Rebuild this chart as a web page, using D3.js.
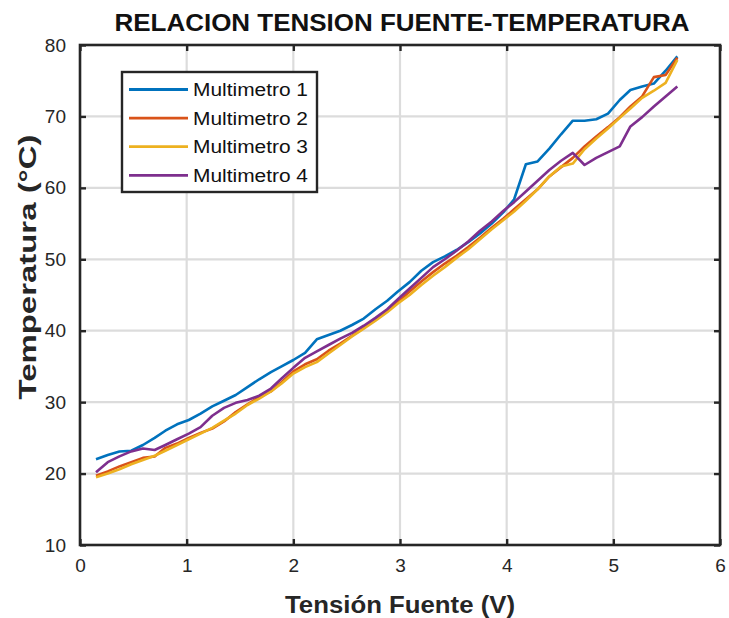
<!DOCTYPE html>
<html>
<head>
<meta charset="utf-8">
<script src="https://cdn.jsdelivr.net/npm/d3@7"></script>
<style>
  html, body { margin: 0; padding: 0; background: #fff; }
  svg { display: block; font-family: "Liberation Sans", Arial, Helvetica, sans-serif; }
</style>
</head>
<body>
<svg id="chart" width="729" height="618"></svg>
<script>
// Supply voltage (V) for each reading
const voltage = [0.15,0.26,0.37,0.48,0.59,0.70,0.80,0.91,1.02,1.13,1.24,1.35,1.46,1.57,1.68,1.79,1.89,2.00,2.11,2.22,2.33,2.44,2.55,2.66,2.77,2.88,2.98,3.09,3.20,3.31,3.42,3.53,3.64,3.75,3.86,3.97,4.07,4.18,4.29,4.40,4.51,4.62,4.73,4.84,4.95,5.06,5.16,5.27,5.38,5.49,5.60];

// Temperature (°C) read by each multimeter
const multimetro1 = [22.0,22.6,23.1,23.2,24.0,25.0,26.0,26.9,27.5,28.4,29.4,30.2,31.0,32.1,33.2,34.2,35.0,35.9,36.9,38.8,39.4,40.0,40.8,41.7,43.0,44.2,45.5,46.8,48.4,49.6,50.4,51.3,52.4,53.6,55.0,56.6,58.4,63.3,63.7,65.5,67.5,69.4,69.4,69.6,70.4,72.3,73.7,74.2,74.6,76.4,78.4];
const multimetro2 = [19.7,20.3,21.0,21.6,22.2,22.4,23.6,24.2,25.0,25.7,26.3,27.3,28.6,29.7,30.7,31.5,32.8,34.3,35.3,36.0,37.2,38.2,39.3,40.4,41.6,42.9,44.0,45.5,46.9,48.2,49.4,50.5,51.7,53.0,54.4,55.7,57.0,58.4,59.8,61.6,62.9,64.2,65.8,67.2,68.5,69.9,71.4,72.8,75.5,75.8,78.2];
const multimetro3 = [19.5,20.0,20.6,21.3,21.9,22.5,23.2,24.0,24.8,25.6,26.4,27.4,28.4,29.6,30.5,31.5,32.6,34.0,34.9,35.6,36.8,38.0,39.2,40.3,41.4,42.6,43.8,45.0,46.4,47.7,48.9,50.2,51.4,52.8,54.2,55.5,56.7,58.2,59.8,61.6,63.0,63.4,65.4,66.9,68.3,69.8,71.1,72.6,73.6,74.7,77.9];
const multimetro4 = [20.2,21.6,22.4,23.1,23.5,23.3,24.0,24.8,25.6,26.5,28.1,29.2,29.9,30.3,30.9,31.9,33.3,34.8,36.2,37.1,38.0,38.9,39.7,40.7,41.8,43.0,44.4,45.9,47.4,48.9,50.0,51.2,52.5,54.0,55.3,56.8,58.0,59.5,61.0,62.5,63.8,64.9,63.2,64.2,65.0,65.8,68.6,69.9,71.4,72.8,74.2];

const seriesNames = ["Multimetro 1", "Multimetro 2", "Multimetro 3", "Multimetro 4"];
const xTicks = [0, 1, 2, 3, 4, 5, 6];
const yTicks = [10, 20, 30, 40, 50, 60, 70, 80];

const titleText = "RELACION TENSION FUENTE-TEMPERATURA";
const xLabelText = "Tensión Fuente (V)";
const yLabelText = "Temperatura (°C)";

const colors = ["#0072BD", "#D95319", "#EDB120", "#7E2F8E"];
const seriesValues = [multimetro1, multimetro2, multimetro3, multimetro4];

const svg = d3.select("#chart");
const plot = { left: 80, right: 720, top: 45, bottom: 545 };

const x = d3.scaleLinear().domain([0, 6]).range([plot.left, plot.right]);
const y = d3.scaleLinear().domain([10, 80]).range([plot.bottom, plot.top]);

// grid
const grid = svg.append("g").attr("class", "grid");
grid.selectAll("line.gx").data(xTicks.slice(1, -1)).join("line")
  .attr("x1", d => x(d)).attr("x2", d => x(d))
  .attr("y1", plot.top).attr("y2", plot.bottom)
  .attr("stroke", "#dcdcdc").attr("stroke-width", 2.2);
grid.selectAll("line.gy").data(yTicks.slice(1, -1)).join("line")
  .attr("y1", d => y(d)).attr("y2", d => y(d))
  .attr("x1", plot.left).attr("x2", plot.right)
  .attr("stroke", "#dcdcdc").attr("stroke-width", 2.2);

// series lines
const line = d3.line().x((d, i) => x(voltage[i])).y(d => y(d));
svg.append("g").selectAll("path").data(seriesValues).join("path")
  .attr("d", d => line(d))
  .attr("fill", "none")
  .attr("stroke", (d, i) => colors[i])
  .attr("stroke-width", 2.6)
  .attr("stroke-linejoin", "round");

// axes (ticks pointing inward, mirrored on all four sides)
const axisColor = "#262626";
const tickLen = 6;
const styleAxis = g => {
  g.select(".domain").remove();
  g.selectAll(".tick line").attr("stroke", axisColor).attr("stroke-width", 2.4);
  g.selectAll(".tick text").attr("fill", "#262626").attr("font-size", 19)
    .attr("font-family", "'Liberation Sans', Arial, sans-serif");
};

svg.append("g").attr("transform", `translate(0,${plot.bottom})`)
  .call(d3.axisBottom(x).tickValues(xTicks).tickFormat(d3.format("d"))
    .tickSizeInner(-tickLen).tickSizeOuter(0).tickPadding(14))
  .call(styleAxis);
svg.append("g").attr("transform", `translate(0,${plot.top})`)
  .call(d3.axisTop(x).tickValues(xTicks).tickFormat("")
    .tickSizeInner(-tickLen).tickSizeOuter(0))
  .call(styleAxis);
svg.append("g").attr("transform", `translate(${plot.left},0)`)
  .call(d3.axisLeft(y).tickValues(yTicks).tickFormat(d3.format("d"))
    .tickSizeInner(-tickLen).tickSizeOuter(0).tickPadding(14))
  .call(styleAxis);
svg.append("g").attr("transform", `translate(${plot.right},0)`)
  .call(d3.axisRight(y).tickValues(yTicks).tickFormat("")
    .tickSizeInner(-tickLen).tickSizeOuter(0))
  .call(styleAxis);

// plot box
svg.append("rect")
  .attr("x", plot.left).attr("y", plot.top)
  .attr("width", plot.right - plot.left).attr("height", plot.bottom - plot.top)
  .attr("fill", "none").attr("stroke", axisColor).attr("stroke-width", 2.6);

// title and axis labels
svg.append("text")
  .attr("x", (plot.left + plot.right) / 2 + 2).attr("y", 31)
  .attr("text-anchor", "middle").attr("font-weight", "bold")
  .attr("font-size", 24).attr("fill", "#111")
  .attr("textLength", 575).attr("lengthAdjust", "spacingAndGlyphs")
  .text(titleText);

svg.append("text")
  .attr("x", (plot.left + plot.right) / 2).attr("y", 613)
  .attr("text-anchor", "middle").attr("font-weight", "bold")
  .attr("font-size", 24).attr("fill", "#262626")
  .attr("textLength", 230).attr("lengthAdjust", "spacingAndGlyphs")
  .text(xLabelText);

svg.append("text")
  .attr("transform", `translate(36,${(plot.top + plot.bottom) / 2 - 28}) rotate(-90)`)
  .attr("text-anchor", "middle").attr("font-weight", "bold")
  .attr("font-size", 24).attr("fill", "#262626")
  .attr("textLength", 265).attr("lengthAdjust", "spacingAndGlyphs")
  .text(yLabelText);

// legend
const legend = svg.append("g").attr("class", "legend");
legend.append("rect")
  .attr("x", 122).attr("y", 72).attr("width", 195).attr("height", 120)
  .attr("fill", "#fff").attr("stroke", axisColor).attr("stroke-width", 2.4);
const rows = legend.selectAll("g.row").data(seriesNames).join("g")
  .attr("transform", (d, i) => `translate(0,${89.5 + i * 28.6})`);
rows.append("line")
  .attr("x1", 129).attr("x2", 188).attr("y1", 0).attr("y2", 0)
  .attr("stroke", (d, i) => colors[i]).attr("stroke-width", 2.8);
rows.append("text")
  .attr("x", 193).attr("y", 6.5)
  .attr("font-size", 18).attr("fill", "#111")
  .attr("textLength", 115).attr("lengthAdjust", "spacingAndGlyphs")
  .text(d => d);
</script>
</body>
</html>
